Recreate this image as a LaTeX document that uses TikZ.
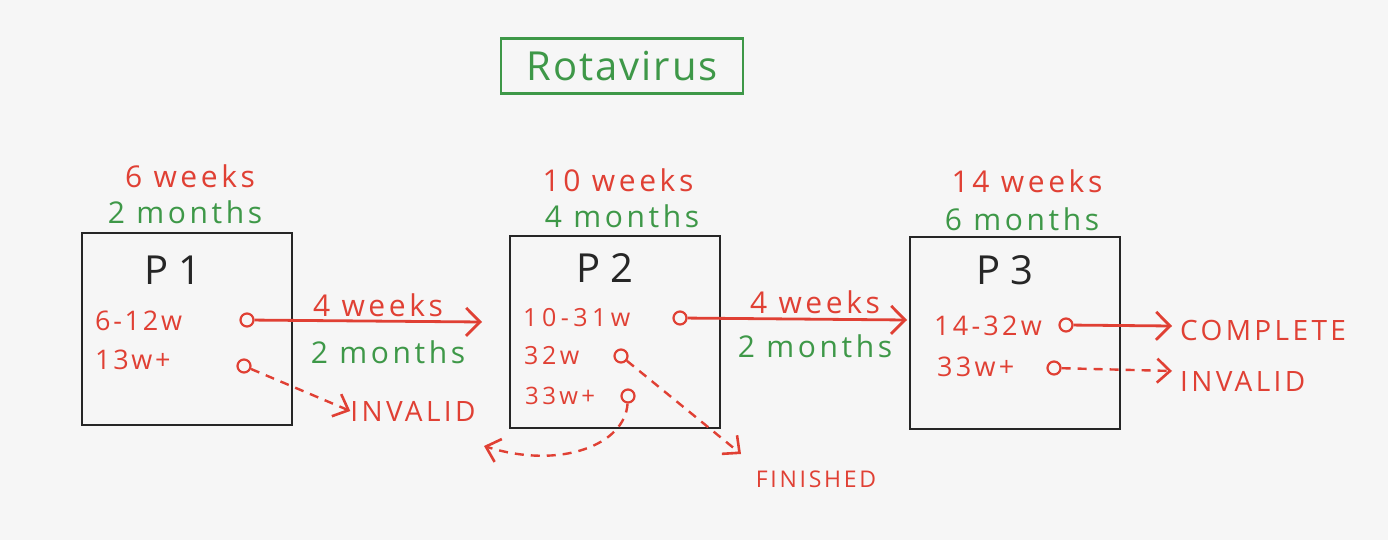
\documentclass[tikz,border=0pt]{standalone}
\usepackage{fontspec}
\setmainfont{Open Sans}
\usetikzlibrary{arrows.meta}
\definecolor{bg}{RGB}{246,246,246}
\definecolor{pen}{RGB}{224,64,52}
\definecolor{grn}{RGB}{62,152,72}
\tikzset{
  box/.style={draw=black!85, line width=2.2pt, minimum width=210pt, minimum height=192pt},
  rlab/.style={text=pen, font=\fontsize{30}{30}\selectfont\addfontfeature{LetterSpace=12}, inner sep=0pt},
  glab/.style={text=grn, font=\fontsize{30}{30}\selectfont\addfontfeature{LetterSpace=12}, inner sep=0pt},
  title/.style={text=black!85, font=\fontsize{40}{40}\selectfont\addfontfeature{LetterSpace=25}, inner sep=0pt},
  row/.style={text=pen, font=\fontsize{27}{27}\selectfont\addfontfeature{LetterSpace=10}, inner sep=0pt, anchor=west},
  caps/.style={text=pen, font=\fontsize{28}{28}\selectfont\addfontfeature{LetterSpace=12}, inner sep=0pt},
  dot/.style={circle, draw=pen, line width=2.2pt, minimum size=13pt, inner sep=0pt},
  conn/.style={draw=pen, line width=2.8pt, -{Straight Barb[length=14pt,width=28pt,line width=2.8pt]}},
  dconn/.style={draw=pen, line width=2.4pt, dash pattern=on 9pt off 7pt, -{Straight Barb[length=13pt,width=24pt,line width=2.6pt]}},
}
\begin{document}
\begin{tikzpicture}[x=1pt,y=-1pt]
\useasboundingbox[fill=bg] (0,0) rectangle (1388,540);
% title
\node[draw=grn, line width=2.2pt, minimum width=242pt, minimum height=55pt, text=grn,
  font=\fontsize{40}{40}\selectfont\addfontfeature{LetterSpace=5}] (rota) at (622,66) {Rotavirus};
% boxes
\node[box] (b1) at (187,329) {};
\node[box] (b2) at (615,332) {};
\node[box] (b3) at (1015,333) {};
% headers
\node[rlab] (w1) at (190,176) {6 weeks};
\node[glab] (m1) at (185,212) {2 months};
\node[rlab] (w2) at (618,180) {10 weeks};
\node[glab] (m2) at (622,216) {4 months};
\node[rlab] (w3) at (1027,181) {14 weeks};
\node[glab] (m3) at (1022,219) {6 months};
% titles
\node[title] (t1) at (173,270) {P1};
\node[title] (t2) at (605,268) {P2};
\node[title] (t3) at (1005,270) {P3};
% P1 rows
\node[row] (r11) at (95,321) {6-12w};
\node[row] (r12) at (95,360) {13w+};
\node[dot] (c11) at (247,320) {};
\node[dot] (c12) at (244,366) {};
% P2 rows
\node[row, font=\fontsize{25}{25}\selectfont\addfontfeature{LetterSpace=18}] (r21) at (523,318) {10-31w};
\node[row, font=\fontsize{25}{25}\selectfont\addfontfeature{LetterSpace=14}] (r22) at (524,356) {32w};
\node[row, font=\fontsize{24}{24}\selectfont\addfontfeature{LetterSpace=14}] (r23) at (525,396) {33w+};
\node[dot] (c21) at (680,318) {};
\node[dot] (c22) at (621,356) {};
\node[dot] (c23) at (628,396) {};
% P3 rows
\node[row, font=\fontsize{27}{27}\selectfont\addfontfeature{LetterSpace=12}] (r31) at (934,326) {14-32w};
\node[row, font=\fontsize{27}{27}\selectfont\addfontfeature{LetterSpace=12}] (r32) at (937,367) {33w+};
\node[dot] (c31) at (1066,325) {};
\node[dot] (c32) at (1054,368) {};
% targets
\coordinate (e1) at (482,322);
\coordinate (e2) at (907,320);
\node[caps] (inv1) at (413,411) {INVALID};
\node[caps, font=\fontsize{23}{23}\selectfont\addfontfeature{LetterSpace=12}] (fin) at (816,479) {FINISHED};
\node[caps, anchor=west] (comp) at (1180,330) {COMPLETE};
\node[caps, anchor=west] (inv3) at (1180,381) {INVALID};
\coordinate (ce) at (1172,326);
\coordinate (ie) at (1172,371);
\coordinate (fe) at (741,454);
\coordinate (back) at (484,446);
% labels on arrows
\node[rlab] (a1w) at (378,305) {4 weeks};
\node[glab] (a1m) at (388,352) {2 months};
\node[rlab] (a2w) at (815,302) {4 weeks};
\node[glab] (a2m) at (815,346) {2 months};
% connectors
\draw[conn] (c11) -- (e1);
\draw[conn] (c21) -- (e2);
\draw[conn] (c31) -- (ce);
\draw[dconn] (c32) -- (ie);
\draw[dconn] (c12) -- (inv1.west);
\draw[dconn] (c22) -- (fe);
\draw[dconn] (c23) .. controls (625,445) and (560,470) .. (back);
\end{tikzpicture}
\end{document}
